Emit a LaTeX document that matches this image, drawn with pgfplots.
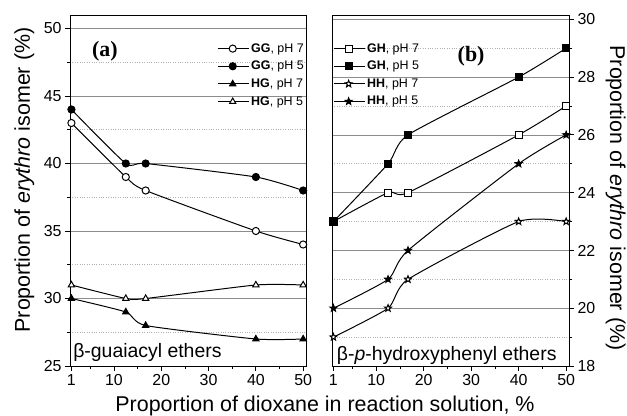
\documentclass[border=0pt]{standalone}
\usepackage{fontspec}
\setmainfont{Liberation Sans}
\newfontfamily\timesf{Liberation Serif}
\usepackage{pgfplots}
\pgfplotsset{compat=1.18}

% filled five point star mark
\pgfdeclareplotmark{fstar}{%
  \pgfpathmoveto{\pgfpointpolar{90}{\pgfplotmarksize}}%
  \pgfpathlineto{\pgfpointpolar{126}{0.42\pgfplotmarksize}}%
  \pgfpathlineto{\pgfpointpolar{162}{\pgfplotmarksize}}%
  \pgfpathlineto{\pgfpointpolar{198}{0.42\pgfplotmarksize}}%
  \pgfpathlineto{\pgfpointpolar{234}{\pgfplotmarksize}}%
  \pgfpathlineto{\pgfpointpolar{270}{0.42\pgfplotmarksize}}%
  \pgfpathlineto{\pgfpointpolar{306}{\pgfplotmarksize}}%
  \pgfpathlineto{\pgfpointpolar{342}{0.42\pgfplotmarksize}}%
  \pgfpathlineto{\pgfpointpolar{18}{\pgfplotmarksize}}%
  \pgfpathlineto{\pgfpointpolar{54}{0.42\pgfplotmarksize}}%
  \pgfpathclose
  \pgfusepathqfillstroke}

\pgfplotsset{
  panel/.style={
    scale only axis,width=236bp,height=351bp,
    xmin=0.7,xmax=50.6,
    xtick={1,10,20,30,40,50},minor xtick={5,15,25,35,45},
    xtick pos=bottom,tick align=outside,
    major tick length=5bp,minor tick length=3bp,
    axis line style={line width=0.9pt},
    tick style={line width=0.8pt,black},
    ymajorgrids,yminorgrids,
    major grid style={black!45,line width=0.6pt},
    minor grid style={black!30,dotted,line width=0.6pt},
    /pgf/number format/assume math mode=true,
    tick label style={font=\fontsize{16}{18}\selectfont},
    every axis plot/.append style={black,line width=1pt,smooth,tension=0.35,mark size=3.6pt},
    legend style={draw=none,fill=none,inner sep=0pt,row sep=3.5bp,
      font=\fontsize{12.5}{14}\selectfont},
    legend cell align=left,
    legend image code/.code={\draw[mark repeat=2,mark phase=2]
      plot coordinates {(0bp,0bp)(15bp,0bp)(31bp,0bp)};},
  }
}

\begin{document}
\begin{tikzpicture}
\path[use as bounding box] (-70bp,-50bp) rectangle (557bp,366bp);

\begin{axis}[panel,
  ymin=25,ymax=51,
  ytick={25,30,35,40,45,50},minor ytick={27.5,32.5,37.5,42.5,47.5},
  ytick pos=left,
  legend style={at={(1,0.925)},anchor=north east}]
\addplot[mark=*,mark options={fill=white}] coordinates {(1,43) (12.5,39) (16.7,38) (40,35) (50,34)};
\addlegendentry{\textbf{GG}, pH 7}
\addplot[mark=*,mark options={fill=black}] coordinates {(1,44) (12.5,40) (16.7,40) (40,39) (50,38)};
\addlegendentry{\textbf{GG}, pH 5}
\addplot[mark=triangle*,mark options={fill=black}] coordinates {(1,30) (12.5,29) (16.7,28) (40,27) (50,27)};
\addlegendentry{\textbf{HG}, pH 7}
\addplot[mark=triangle*,mark options={fill=white}] coordinates {(1,31) (12.5,30) (16.7,30) (40,31) (50,31)};
\addlegendentry{\textbf{HG}, pH 5}
\node[font=\timesf\bfseries\fontsize{22}{24}\selectfont] at (rel axis cs:0.148,0.897) {(a)};
\node[anchor=base west,inner sep=0pt,font=\fontsize{19.5}{22}\selectfont] at (rel axis cs:0.013,0.023) {β-guaiacyl ethers};
\end{axis}

\begin{axis}[panel,at={(262bp,0)},width=237bp,
  ymin=18,ymax=30.15,
  ytick={18,20,22,24,26,28,30},minor ytick={19,21,23,25,27,29},
  ytick pos=right,yticklabel pos=right,
  legend style={at={(0.004,0.925)},anchor=north west}]
\addplot[mark=square*,mark options={fill=white}] coordinates {(1,23) (12.5,24) (16.7,24) (40,26) (50,27)};
\addlegendentry{\textbf{GH}, pH 7}
\addplot[mark=square*,mark options={fill=black}] coordinates {(1,23) (12.5,25) (16.7,26) (40,28) (50,29)};
\addlegendentry{\textbf{GH}, pH 5}
\addplot[mark=fstar,mark options={fill=white}] coordinates {(1,19) (12.5,20) (16.7,21) (40,23) (50,23)};
\addlegendentry{\textbf{HH}, pH 7}
\addplot[mark=fstar,mark options={fill=black}] coordinates {(1,20) (12.5,21) (16.7,22) (40,25) (50,26)};
\addlegendentry{\textbf{HH}, pH 5}
\node[font=\timesf\bfseries\fontsize{22}{24}\selectfont] at (rel axis cs:0.587,0.883) {(b)};
\node[anchor=base west,inner sep=0pt,font=\fontsize{19.5}{22}\selectfont] at (rel axis cs:0.02,0.017) {β-\textit{p}-hydroxyphenyl ethers};
\end{axis}

\node[rotate=90,anchor=base,inner sep=0pt,font=\fontsize{21.5}{24}\selectfont] at (-40bp,186bp) {Proportion of \textit{erythro} isomer (\%)};
\node[rotate=-90,anchor=base,inner sep=0pt,font=\fontsize{21.5}{24}\selectfont] at (540bp,168bp) {Proportion of \textit{erythro} isomer (\%)};
\node[anchor=base,inner sep=0pt,font=\fontsize{21.5}{24}\selectfont] at (255bp,-45.5bp) {Proportion of dioxane in reaction solution, \%};
\end{tikzpicture}
\end{document}
